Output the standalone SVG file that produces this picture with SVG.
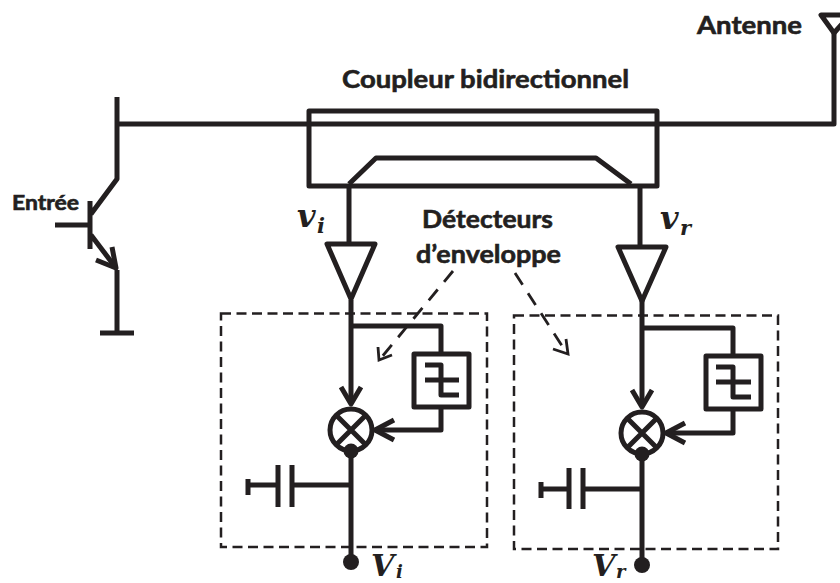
<svg xmlns="http://www.w3.org/2000/svg" width="840" height="583" viewBox="0 0 840 583">
<style>
.w{fill:none;stroke:#231f20;stroke-width:5;stroke-linejoin:round;stroke-linecap:butt}
.d{fill:none;stroke:#231f20;stroke-width:2.500;stroke-dasharray:10 5.500}
.a{fill:none;stroke:#231f20;stroke-width:2.800;stroke-dasharray:14 10}
.h{fill:none;stroke:#231f20;stroke-width:2.800}
.f{fill:#231f20}
.t{font-family:"Lato","Liberation Sans",sans-serif;font-weight:700;fill:#231f20;font-size:25px;stroke:#231f20;stroke-width:.6}
.m{font-family:"DejaVu Serif","Liberation Serif",serif;font-style:italic;font-weight:700;fill:#231f20}
</style>
<rect width="840" height="583" fill="#fff"/>
<g id="connectors">
<path class="w" d="M117 124H834V30"/>
<path class="w" d="M349 186V244M640 186V247"/>
<path class="w" d="M351 300V402M351 445V562"/>
<path class="w" d="M351 326H441V354M441 407V430H376"/>
<path class="w" d="M642 300V405M642 448V565"/>
<path class="w" d="M642 328H733V356M733 409V433H667"/>
<path class="w" d="M351 485H294M278 485H248"/>
<path class="w" d="M642 489H585M569 489H541"/>
<path class="a" d="M453 271L381 358"/>
<path class="h" d="M378 347L379 360L392 355"/>
<path class="a" d="M515 273L566 352"/>
<path class="h" d="M553 349L568 354L566 339"/>
</g>
<g id="transistor">
<path class="w" d="M117 97V179L91 214M90 201V249M55 225H90M91 235L116 268M117 270V333M100 333H134"/>
<path class="w" d="M96 260L116 268L112 247" stroke-linecap="round"/>
</g>
<g id="antenna">
<path class="w" d="M821 15H850L834 33Z"/>
<text class="t" x="697" y="34" textLength="105" lengthAdjust="spacingAndGlyphs">Antenne</text>
</g>
<g id="coupleur">
<rect class="w" x="309" y="111" width="348" height="75"/>
<path class="w" d="M349 184L376 158H596L631 184"/>
<text class="t" x="342" y="88" textLength="287" lengthAdjust="spacingAndGlyphs">Coupleur bidirectionnel</text>
</g>
<g id="entree"><text class="t" x="12" y="210" style="font-size:20px" textLength="67" lengthAdjust="spacingAndGlyphs">Entrée</text></g>
<g id="detecteurs-label">
<text class="t" x="422" y="228" textLength="131" lengthAdjust="spacingAndGlyphs">Détecteurs</text>
<text class="t" x="416" y="263" textLength="145" lengthAdjust="spacingAndGlyphs">d’enveloppe</text>
</g>
<g id="amp-i"><path class="w" d="M327 244H375L351 299Z"/></g>
<g id="amp-r"><path class="w" d="M618 247H666L642 301Z"/></g>
<g id="label-vi"><text class="m" x="297" y="227" font-size="32">v</text><text class="m" x="317" y="233" font-size="21">i</text></g>
<g id="label-vr"><text class="m" x="660" y="229" font-size="32">v</text><text class="m" x="680" y="235" font-size="21">r</text></g>
<g id="detecteur-i">
<rect class="d" x="221" y="313.500" width="266" height="233.500"/>
<rect class="w" x="414" y="354" width="55" height="53"/>
<path class="w" d="M425 365H441V395H459M425 380H459"/>
<circle class="w" cx="351" cy="430" r="21"/>
<path class="w" d="M336 415L366 445M366 415L336 445"/>
<circle class="f" cx="351" cy="451" r="7.500"/>
<path class="w" d="M341 387L351 404L361 387M394 420L375 430L394 440" stroke-linecap="round"/>
<path class="w" d="M278 465V507M292 465V507M248 479V495"/>
<circle class="f" cx="351" cy="562" r="8"/>
</g>
<g id="detecteur-r">
<rect class="d" x="514" y="315.500" width="264" height="233.500"/>
<rect class="w" x="706" y="356" width="55" height="53"/>
<path class="w" d="M716 367H733V397H751M716 382H751"/>
<circle class="w" cx="642" cy="433" r="21"/>
<path class="w" d="M627 418L657 448M657 418L627 448"/>
<circle class="f" cx="642" cy="454" r="7.500"/>
<path class="w" d="M632 390L642 407L652 390M685 423L666 433L685 443" stroke-linecap="round"/>
<path class="w" d="M569 468V509M583 468V509M541 482V498"/>
<circle class="f" cx="642" cy="565" r="8"/>
</g>
<g id="label-Vi"><text class="m" x="371" y="576" font-size="30">V</text><text class="m" x="396" y="578" font-size="18">i</text></g>
<g id="label-Vr"><text class="m" x="592" y="576" font-size="30">V</text><text class="m" x="616" y="578" font-size="18">r</text></g>
</svg>
